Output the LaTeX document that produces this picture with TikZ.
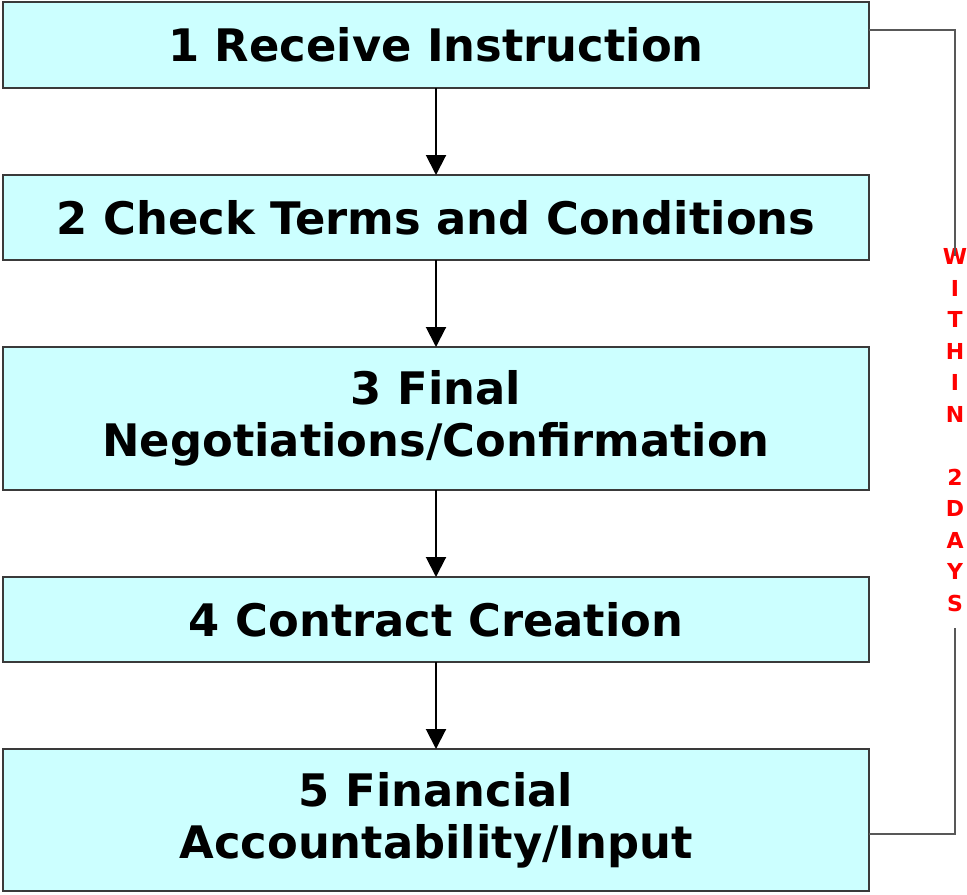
\documentclass[tikz,border=0pt]{standalone}
\usepackage{fontspec}
\newfontfamily\verdana{DejaVu Sans}
\usetikzlibrary{positioning, arrows.meta}
\definecolor{boxfill}{HTML}{CCFFFF}
\definecolor{boxline}{HTML}{3A3A3A}

\begin{document}
\begin{tikzpicture}[->,>={Triangle[length=10pt,width=10pt]},line width=1pt,node distance=43.5pt,
                    stage node/.style={rectangle,fill=boxfill,draw=boxline,minimum width=433pt,
                      outer sep=0pt,align=center,font=\verdana\bfseries\fontsize{22.4}{26}\selectfont},
                    days node/.style={text=red,align=center,inner sep=0pt,
                      font=\verdana\bfseries\fontsize{11}{15.75}\selectfont}]

        \useasboundingbox (0,0) rectangle (483.5pt,-447pt);

        \node[stage node,minimum height=43pt] (1) at (218pt,-22.5pt) {1 Receive Instruction};
        \node[stage node,minimum height=42.5pt] (2) [below=of 1] {2 Check Terms and Conditions};
        \node[stage node,minimum height=71.5pt] (3) [below=of 2] {3 Final\\Negotiations/Confirmation};
        \node[stage node,minimum height=42.5pt] (4) [below=of 3] {4 Contract Creation};
        \node[stage node,minimum height=71pt] (5) [below=of 4] {5 Financial\\Accountability/Input};

        \node[days node] (6) at (477.5pt,-215pt) {W\\I\\T\\H\\I\\N\\[15.75pt]2\\D\\A\\Y\\S};

        \path
          (1) edge (2)
          (2) edge (3)
          (3) edge (4)
          (4) edge (5);

        % bracket round the whole process
        \draw[-,draw=boxline!85,line width=0.8pt] ([yshift=7.5pt]1.east) -| ([yshift=-4pt]6.north);
        \draw[-,draw=boxline!85,line width=0.8pt] ([yshift=-8pt]6.south) |- ([yshift=-7pt]5.east);
      \end{tikzpicture}
\end{document}
